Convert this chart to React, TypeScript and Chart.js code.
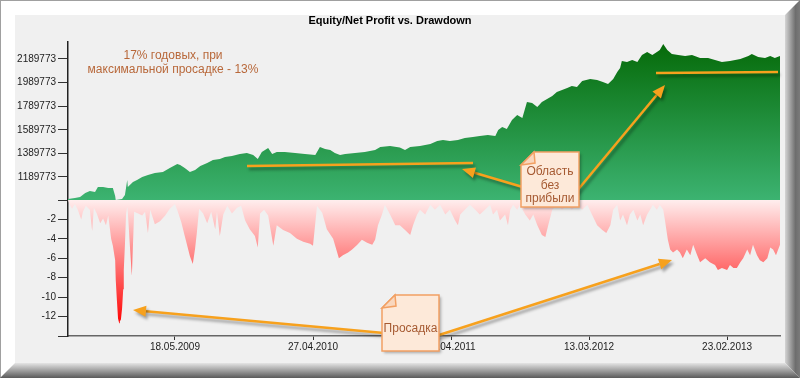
import React, { useEffect, useRef } from 'react';
import { Chart, registerables } from 'chart.js';

Chart.register(...registerables);

// ---- data (x = trading-bar index, y = value) ----
const equityBars = [
  0, 12, 21, 30, 38, 47, 52, 61, 70, 78,
  82, 83, 94, 99, 103, 104, 113, 120, 129, 139,
  151, 165, 177, 190, 195, 203, 212, 221, 230, 242,
  252, 264, 273, 285, 299, 311, 322, 330, 337, 348,
  355, 363, 377, 395, 412, 430, 438, 447, 456, 464,
  473, 482, 499, 516, 534, 543, 560, 577, 586, 595,
  612, 630, 642, 652, 664, 678, 690, 704, 716, 730,
  743, 748, 755, 763, 772, 781, 790, 798, 807, 816,
  824, 833, 842, 850, 859, 868, 876, 885, 894, 908,
  920, 930, 939, 948, 955, 960, 963, 972, 981, 990,
  998, 1007, 1016, 1024, 1029, 1035, 1042, 1050, 1061, 1073,
  1085, 1099, 1113, 1125, 1137, 1151, 1169, 1183, 1189, 1200,
  1212, 1221, 1229, 1238,
];
const equityValues = [
  1003000, 1012000, 1020000, 1054000, 1071000, 1063000, 1105000, 1105000, 1096000, 1096000,
  1029000, 995000, 1003000, 1037000, 1164000, 1105000, 1147000, 1164000, 1190000, 1207000,
  1224000, 1232000, 1266000, 1300000, 1291000, 1266000, 1232000, 1249000, 1283000, 1308000,
  1334000, 1342000, 1359000, 1368000, 1385000, 1393000, 1376000, 1342000, 1402000, 1435000,
  1385000, 1402000, 1402000, 1393000, 1385000, 1376000, 1444000, 1427000, 1419000, 1393000,
  1376000, 1385000, 1393000, 1402000, 1419000, 1444000, 1452000, 1440000, 1419000, 1444000,
  1452000, 1469000, 1495000, 1503000, 1495000, 1503000, 1520000, 1529000, 1537000, 1546000,
  1537000, 1588000, 1613000, 1597000, 1673000, 1715000, 1690000, 1825000, 1817000, 1783000,
  1825000, 1851000, 1876000, 1910000, 1927000, 1944000, 1961000, 1952000, 2003000, 2020000,
  2012000, 1995000, 1978000, 2020000, 2080000, 2114000, 2173000, 2164000, 2181000, 2164000,
  2224000, 2249000, 2224000, 2249000, 2266000, 2317000, 2266000, 2232000, 2224000, 2215000,
  2224000, 2198000, 2198000, 2181000, 2164000, 2173000, 2190000, 2215000, 2232000, 2207000,
  2198000, 2215000, 2198000, 2215000,
];

const drawdownBars = [
  0, 3, 7, 12, 17, 23, 26, 31, 38, 42,
  45, 50, 56, 61, 66, 70, 75, 78, 82, 83,
  85, 87, 89, 90, 92, 94, 96, 97, 99, 101,
  103, 104, 108, 111, 113, 115, 122, 129, 134, 139,
  143, 151, 160, 169, 177, 186, 191, 197, 203, 212,
  217, 221, 224, 228, 235, 242, 249, 256, 259, 264,
  270, 277, 285, 294, 301, 308, 316, 325, 330, 334,
  341, 348, 357, 363, 374, 386, 398, 409, 421, 426,
  433, 442, 450, 461, 471,
  478, 487, 494, 503, 511, 520, 529, 534, 539, 546,
  551, 560, 569, 577, 586, 595, 600, 607, 612, 621,
  630, 638, 647, 656, 664, 673, 678, 682, 690, 699,
  708, 716, 725, 734, 739, 746, 751, 760, 765, 769,
  774, 781, 786, 795, 803, 809, 816, 824, 830, 835,
  842, 850, 859, 868, 876, 885, 894, 903, 911, 920,
  929, 936, 943, 948, 955, 960, 965, 972, 977, 983,
  990, 995, 1000, 1007, 1012, 1017, 1024, 1029, 1035, 1038,
  1043, 1047, 1052, 1059, 1064, 1069, 1076, 1082, 1087, 1094,
  1099, 1108, 1116, 1125, 1130, 1137, 1146, 1151, 1157, 1163,
  1169, 1174, 1181, 1186, 1191, 1198, 1203, 1209, 1216, 1221,
  1226, 1231, 1238,
];
const drawdownValues = [
  0, -0.5, -0.9, -0.4, -1.0, -2.0, -1.2, -0.6, -1.0, -3.2,
  -0.8, -1.4, -2.4, -1.9, -2.6, -1.6, -4.0, -4.7, -6.2, -8.2,
  -10.3, -12.2, -12.7, -12.5, -12.3, -11.2, -9.2, -7.2, -4.6, -1.4,
  -0.7, -1.2, -5.1, -7.8, -4.6, -1.2, -1.4, -1.6, -1.2, -3.4,
  -1.0, -2.5, -2.2, -1.6, -0.9, -0.4, -1.2, -2.3, -3.7, -5.8,
  -6.6, -5.0, -3.4, -0.9, -1.4, -2.4, -1.2, -3.0, -1.2, -3.7,
  -1.5, -0.6, -1.4, -0.8, -0.6, -2.1, -3.0, -3.7, -4.9, -1.4,
  -1.0, -1.6, -4.7, -2.6, -3.1, -3.4, -4.0, -4.3, -4.5, -4.7,
  -0.6, -1.3, -3.0, -4.0, -6.0,
  -5.7, -5.4, -5.1, -4.6, -4.1, -4.4, -4.6, -4.1, -2.6, -1.5,
  -0.5, -1.5, -2.6, -2.6, -3.1, -3.6, -2.6, -1.5, -1.0, -1.5,
  -0.5, -1.0, -0.5, -1.5, -1.0, -2.1, -2.6, -1.5, -1.0, -0.5,
  -1.0, -1.5, -1.0, -0.5, -1.5, -1.0, -2.1, -1.5, -2.6, -1.0,
  -0.5, -1.0, -0.5, -1.5, -2.1, -1.5, -2.6, -3.6, -3.8, -2.6,
  -1.0, -0.5, -1.0, -0.5, -1.0, -0.5, -1.0, -0.5, -1.5, -2.6,
  -3.1, -3.4, -2.6, -1.0, -0.5, -2.1, -1.5, -2.6, -1.5, -1.0,
  -2.1, -1.5, -2.6, -1.5, -1.0, -0.5, -1.0, -0.5, -1.0, -2.1,
  -4.1, -5.1, -5.4, -5.1, -5.4, -6.0, -5.1, -5.7, -4.6, -5.7,
  -6.4, -6.0, -6.4, -6.7, -7.2, -7.0, -7.2, -6.7, -7.0, -7.0,
  -6.4, -6.0, -5.1, -5.7, -4.6, -5.7, -6.2, -6.4, -6.0, -4.9,
  -5.1, -5.7, -4.6,
];

const xTickBars = [186, 426, 666, 906, 1146];
const xTickLabels = ['18.05.2009', '27.04.2010', '06.04.2011', '13.03.2012', '23.02.2013'];
const equityTicks = [1189773, 1389773, 1589773, 1789773, 1989773, 2189773];
const drawdownTicks = [0, -2, -4, -6, -8, -10, -12, -14];
const drawdownLabeled = [-2, -4, -6, -8, -10, -12];

const titleText = 'Equity/Net Profit vs. Drawdown';
const noteLines = ['17% годовых, при', 'максимальной просадке - 13%'];
const calloutFlat = ['Область', 'без', 'прибыли'];
const calloutDD = ['Просадка'];

const FONT = "'Liberation Sans', Arial, sans-serif";
const ORANGE = '#f7a11d';

function arrow(ctx: CanvasRenderingContext2D, x1: number, y1: number, x2: number, y2: number) {
  const ang = Math.atan2(y2 - y1, x2 - x1);
  const len = 13;
  const hw = 5.5;
  const bx = x2 - len * Math.cos(ang);
  const by = y2 - len * Math.sin(ang);
  ctx.beginPath();
  ctx.moveTo(x1, y1);
  ctx.lineTo(bx, by);
  ctx.stroke();
  ctx.beginPath();
  ctx.moveTo(x2, y2);
  ctx.lineTo(bx + hw * Math.sin(ang), by - hw * Math.cos(ang));
  ctx.lineTo(bx - hw * Math.sin(ang), by + hw * Math.cos(ang));
  ctx.closePath();
  ctx.fill();
}

function callout(ctx: CanvasRenderingContext2D, x: number, y: number, w: number, h: number, lines: string[], ys: number[]) {
  const f = 13;
  const path = () => {
    ctx.beginPath();
    ctx.moveTo(x + f, y);
    ctx.lineTo(x + w, y);
    ctx.lineTo(x + w, y + h);
    ctx.lineTo(x, y + h);
    ctx.lineTo(x, y + f);
    ctx.closePath();
  };
  ctx.save();
  ctx.shadowColor = 'rgba(0,0,0,0.3)';
  ctx.shadowBlur = 3;
  ctx.shadowOffsetX = 2;
  ctx.shadowOffsetY = 2;
  path();
  ctx.fillStyle = '#fde9d9';
  ctx.fill();
  ctx.restore();
  ctx.save();
  path();
  ctx.strokeStyle = '#f2a063';
  ctx.lineWidth = 1.5;
  ctx.stroke();
  ctx.beginPath();
  ctx.moveTo(x, y + f);
  ctx.lineTo(x + f, y);
  ctx.lineTo(x + f + 1, y + f - 2);
  ctx.closePath();
  ctx.fillStyle = '#f9d7be';
  ctx.fill();
  ctx.stroke();
  ctx.fillStyle = '#a65a32';
  ctx.font = `12px ${FONT}`;
  ctx.textAlign = 'center';
  ctx.textBaseline = 'middle';
  lines.forEach((t, i) => ctx.fillText(t, x + w / 2, ys[i]));
  ctx.restore();
}

const framePlugin = {
  id: 'frame',
  beforeDraw(chart: any) {
    const ctx: CanvasRenderingContext2D = chart.ctx;
    const W = chart.width;
    const H = chart.height;
    ctx.save();
    ctx.fillStyle = '#ffffff';
    ctx.fillRect(0, 0, W, H);
    ctx.fillStyle = '#a0a0a0';
    ctx.fillRect(0, 0, W, 1);
    ctx.fillRect(0, 0, 1, H);
    const gr = ctx.createLinearGradient(W - 15, 0, W, 0);
    gr.addColorStop(0, '#d4d4d4');
    gr.addColorStop(0.7, '#6e6e6e');
    gr.addColorStop(1, '#7a7a7a');
    ctx.fillStyle = gr;
    ctx.beginPath();
    ctx.moveTo(W - 15, 15);
    ctx.lineTo(W, 0);
    ctx.lineTo(W, H);
    ctx.lineTo(W - 15, H - 15);
    ctx.closePath();
    ctx.fill();
    const gb = ctx.createLinearGradient(0, H - 15, 0, H);
    gb.addColorStop(0, '#e4e4e4');
    gb.addColorStop(1, '#5a5a5a');
    ctx.fillStyle = gb;
    ctx.beginPath();
    ctx.moveTo(0, H);
    ctx.lineTo(15, H - 15);
    ctx.lineTo(W - 15, H - 15);
    ctx.lineTo(W, H);
    ctx.closePath();
    ctx.fill();
    ctx.fillStyle = '#f0f0f0';
    ctx.fillRect(15, 15, W - 30, H - 30);
    ctx.restore();
  },
};

const notesPlugin = {
  id: 'notes',
  afterDraw(chart: any) {
    const ctx: CanvasRenderingContext2D = chart.ctx;
    ctx.save();
    ctx.fillStyle = '#b8683a';
    ctx.font = `12px ${FONT}`;
    ctx.textAlign = 'center';
    ctx.textBaseline = 'middle';
    ctx.fillText(noteLines[0], 173, 56);
    ctx.fillText(noteLines[1], 173, 70);

    ctx.shadowColor = 'rgba(0,0,0,0.35)';
    ctx.shadowBlur = 3;
    ctx.shadowOffsetX = 2;
    ctx.shadowOffsetY = 3;
    ctx.strokeStyle = ORANGE;
    ctx.fillStyle = ORANGE;
    ctx.lineWidth = 2.5;
    ctx.lineCap = 'butt';
    ctx.beginPath();
    ctx.moveTo(247, 166);
    ctx.lineTo(473, 163);
    ctx.stroke();
    ctx.beginPath();
    ctx.moveTo(656, 73);
    ctx.lineTo(778, 72);
    ctx.stroke();
    arrow(ctx, 526, 188, 462, 169);
    arrow(ctx, 576, 192, 665, 85);
    arrow(ctx, 384, 333, 133, 310);
    arrow(ctx, 436, 336, 672, 260);
    ctx.restore();

    callout(ctx, 521, 152, 58, 55, calloutFlat, [172, 185.5, 199]);
    callout(ctx, 382, 295, 57, 56, calloutDD, [329]);
  },
};

export default function App() {
  const ref = useRef<HTMLCanvasElement>(null);
  useEffect(() => {
    const canvas = ref.current;
    if (!canvas) return;
    const tickFont = { family: FONT, size: 10 };
    const chart = new Chart(canvas, {
      type: 'line',
      data: {
        datasets: [
          {
            label: 'Equity',
            data: equityBars.map((b, i) => ({ x: b, y: equityValues[i] })),
            xAxisID: 'x',
            yAxisID: 'y',
            fill: 'start',
            borderWidth: 0,
            borderColor: 'rgba(0,0,0,0)',
            pointRadius: 0,
            tension: 0,
            backgroundColor: (c: any) => {
              const ch = c.chart;
              const s = ch.scales && ch.scales.y;
              if (!s || !ch.chartArea) return 'rgba(0,0,0,0)';
              const g = ch.ctx.createLinearGradient(0, s.top, 0, s.bottom);
              g.addColorStop(0, '#056a08');
              g.addColorStop(1, '#3cb371');
              return g;
            },
          },
          {
            label: 'Drawdown',
            data: drawdownBars.map((b, i) => ({ x: b, y: drawdownValues[i] })),
            xAxisID: 'x',
            yAxisID: 'y2',
            fill: 'origin',
            borderWidth: 0,
            borderColor: 'rgba(0,0,0,0)',
            pointRadius: 0,
            tension: 0,
            backgroundColor: (c: any) => {
              const ch = c.chart;
              const s = ch.scales && ch.scales.y2;
              if (!s || !ch.chartArea) return 'rgba(0,0,0,0)';
              const g = ch.ctx.createLinearGradient(0, s.top, 0, s.top + 125);
              g.addColorStop(0, '#ffeeee');
              g.addColorStop(1, '#ff0000');
              return g;
            },
          },
        ],
      },
      options: {
        animation: false,
        responsive: false,
        devicePixelRatio: 1,
        events: [],
        layout: { padding: { left: 0, right: 20, top: 12, bottom: 0 } },
        plugins: {
          legend: { display: false },
          tooltip: { enabled: false },
          title: {
            display: true,
            text: titleText,
            color: '#000',
            font: { family: FONT, size: 11, weight: 'bold' },
            padding: { top: 2, bottom: 14.8 },
          },
        },
        scales: {
          x: {
            type: 'linear',
            position: 'bottom',
            min: 0,
            max: 1238,
            afterBuildTicks: (s: any) => {
              s.ticks = xTickBars.map((v) => ({ value: v }));
            },
            afterFit: (s: any) => {
              s.height = 42;
            },
            ticks: {
              autoSkip: false,
              maxRotation: 0,
              padding: 1,
              color: '#222',
              font: tickFont,
              callback: (_v: any, i: number) => xTickLabels[i],
            },
            grid: { drawOnChartArea: false, drawTicks: true, tickLength: 4, color: '#333' },
            border: { display: true, color: '#666', width: 1.5 },
          },
          y: {
            type: 'linear',
            position: 'left',
            stack: 'main',
            stackWeight: 158,
            weight: 2,
            min: 994773,
            max: 2333773,
            afterBuildTicks: (s: any) => {
              s.ticks = equityTicks.map((v) => ({ value: v }));
            },
            afterFit: (s: any) => {
              s.width = 68;
            },
            ticks: {
              autoSkip: false,
              padding: 2,
              color: '#222',
              font: tickFont,
              callback: (v: any) => String(v),
            },
            grid: { drawOnChartArea: false, drawTicks: true, tickLength: 10, color: '#333' },
            border: { display: true, color: '#222', width: 1.5 },
          },
          y2: {
            type: 'linear',
            position: 'left',
            stack: 'main',
            stackWeight: 136,
            weight: 1,
            min: -14,
            max: 0,
            afterBuildTicks: (s: any) => {
              s.ticks = drawdownTicks.map((v) => ({ value: v }));
            },
            afterFit: (s: any) => {
              s.width = 68;
            },
            ticks: {
              autoSkip: false,
              padding: 2,
              color: '#222',
              font: tickFont,
              callback: (v: any) => (drawdownLabeled.includes(v) ? String(v) : ''),
            },
            grid: { drawOnChartArea: false, drawTicks: true, tickLength: 10, color: '#333' },
            border: { display: true, color: '#222', width: 1.5 },
          },
        },
      },
      plugins: [framePlugin, notesPlugin],
    } as any);
    return () => chart.destroy();
  }, []);
  return (
    <div style={{ position: 'absolute', left: 0, top: 0, width: 800, height: 378 }}>
      <canvas ref={ref} width={800} height={378} style={{ display: 'block', width: 800, height: 378 }} />
    </div>
  );
}
